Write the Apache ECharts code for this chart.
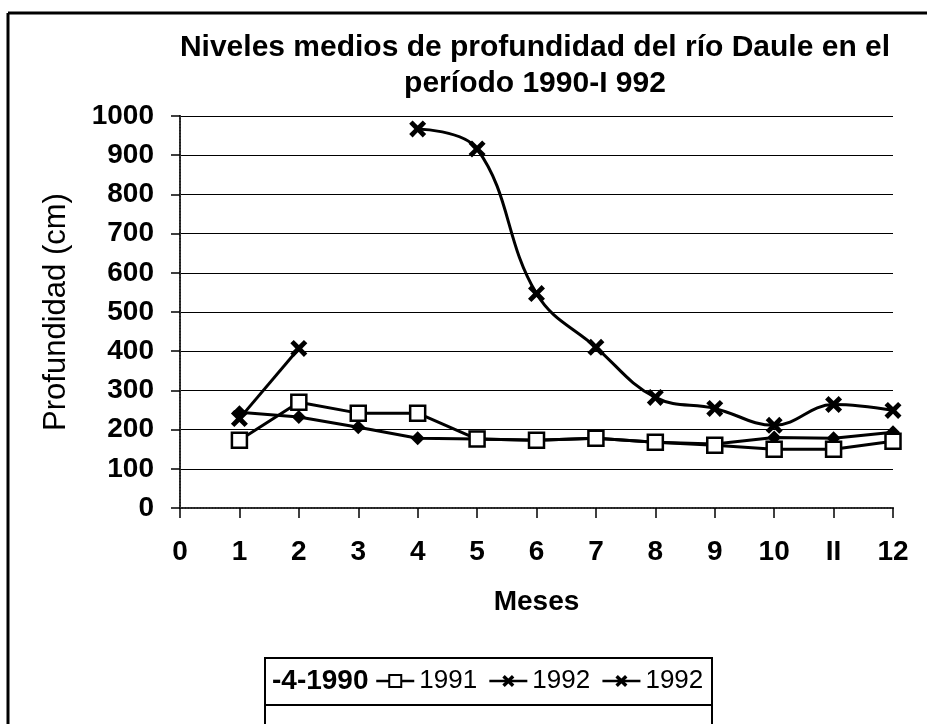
<!DOCTYPE html>
<html>
<head>
<meta charset="utf-8">
<script src="https://cdn.jsdelivr.net/npm/echarts@6/dist/echarts.min.js"></script>
<style>
html, body { margin: 0; padding: 0; background: #fff; }
#grafico { width: 927px; height: 724px; }
</style>
</head>
<body>
<div id="grafico"></div>
<script>
// datos
let meses = [1, 2, 3, 4, 5, 6, 7, 8, 9, 10, 11, 12];
let etiquetasX = ['0', '1', '2', '3', '4', '5', '6', '7', '8', '9', '10', 'II', '12'];
let nivel1990 = [244, 232, 206, 178, 176, 173, 178, 168, 163, 180, 178, 193];
let nivel1991 = [173, 270, 242, 242, 176, 173, 178, 168, 160, 150, 150, 170];
let meses1992a = [1, 2];
let nivel1992a = [228, 407];
let meses1992b = [4, 5, 6, 7, 8, 9, 10, 11, 12];
let nivel1992b = [967, 916, 547, 410, 282, 254, 211, 264, 249];

let fuente = "'Liberation Sans', Arial, sans-serif";
let simboloX = 'path://M2,0 L5,3 L8,0 L10,2 L7,5 L10,8 L8,10 L5,7 L2,10 L0,8 L3,5 L0,2 Z';

function pares(xs, ys) {
    return xs.map(function (x, i) { return [x, ys[i]]; });
}

let myChart = echarts.init(document.getElementById('grafico'));

let option = {
    backgroundColor: '#fff',
    animation: false,
    title: {
        text: 'Niveles medios de profundidad del río Daule en el\nperíodo 1990-I 992',
        left: 530,
        top: 25,
        textAlign: 'center',
        textStyle: {
            fontFamily: fuente,
            fontWeight: 'bold',
            fontSize: 30,
            lineHeight: 36,
            color: '#000'
        }
    },
    legend: [{
        // primera entrada sin icono
        left: 267,
        top: 667,
        padding: 0,
        itemWidth: 0,
        itemHeight: 14,
        textStyle: { fontFamily: fuente, fontSize: 28, fontWeight: 'bold', color: '#000', lineHeight: 28 },
        data: [{ name: '-4-1990', icon: 'none' }]
    }, {
        left: 375,
        top: 667,
        padding: 0,
        itemGap: 11,
        itemWidth: 38,
        itemHeight: 15,
        lineStyle: { width: 2.5, color: '#000' },
        formatter: function (name) { return name.trim(); },
        textStyle: { fontFamily: fuente, fontSize: 26, color: '#000', lineHeight: 28 },
        data: ['1991', '1992', '1992 ']
    }],
    graphic: [
        { type: 'line', shape: { x1: 8, y1: 13, x2: 927, y2: 13 }, style: { stroke: '#000', lineWidth: 3 } },
        { type: 'line', shape: { x1: 8, y1: 13, x2: 8, y2: 724 }, style: { stroke: '#000', lineWidth: 3 } },
        { type: 'rect', shape: { x: 265, y: 658, width: 447, height: 47 }, style: { stroke: '#000', fill: 'none', lineWidth: 2 } },
        { type: 'rect', shape: { x: 265, y: 705, width: 447, height: 30 }, style: { stroke: '#000', fill: 'none', lineWidth: 2 } }
    ],
    grid: {
        left: 180,
        right: 34,
        top: 116,
        bottom: 216
    },
    xAxis: [{
        type: 'value',
        min: 0,
        max: 12,
        interval: 1,
        name: 'Meses',
        nameLocation: 'middle',
        nameGap: 80,
        nameTextStyle: { fontFamily: fuente, fontWeight: 'bold', fontSize: 28, color: '#000' },
        axisLine: { lineStyle: { color: '#000', width: 2 } },
        axisTick: { show: true, length: 10, lineStyle: { color: '#000', width: 1.5 } },
        axisLabel: {
            margin: 30,
            fontFamily: fuente,
            fontWeight: 'bold',
            fontSize: 28,
            color: '#000',
            formatter: function (v) { return etiquetasX[v]; }
        },
        splitLine: { show: false }
    }, {
        type: 'value',
        position: 'top',
        min: 0,
        max: 12,
        interval: 1,
        axisLine: { show: true, lineStyle: { color: '#444', width: 1.5, type: 'dotted' } },
        axisTick: { show: false },
        axisLabel: { show: false },
        splitLine: { show: false }
    }],
    yAxis: [{
        type: 'value',
        min: 0,
        max: 1000,
        interval: 100,
        name: 'Profundidad (cm)',
        nameLocation: 'middle',
        nameGap: 108,
        nameTextStyle: { fontFamily: fuente, fontSize: 31, color: '#000' },
        axisLine: { show: true, lineStyle: { color: '#000', width: 2 } },
        axisTick: { show: true, length: 9, lineStyle: { color: '#000', width: 1.5 } },
        axisLabel: {
            margin: 26,
            fontFamily: fuente,
            fontWeight: 'bold',
            fontSize: 28,
            color: '#000',
            formatter: function (v) { return String(v); }
        },
        splitLine: { show: true, lineStyle: { color: '#000', width: 1.2 } }
    }, {
        type: 'value',
        position: 'right',
        min: 0,
        max: 1000,
        interval: 100,
        axisLine: { show: true, lineStyle: { color: '#444', width: 1.5, type: 'dotted' } },
        axisTick: { show: false },
        axisLabel: { show: false },
        splitLine: { show: false }
    }],
    series: [{
        name: '-4-1990',
        type: 'line',
        data: pares(meses, nivel1990),
        symbol: 'diamond',
        symbolSize: 14,
        lineStyle: { color: '#000', width: 3 },
        itemStyle: { color: '#000' }
    }, {
        name: '1991',
        type: 'line',
        data: pares(meses, nivel1991),
        symbol: 'rect',
        symbolSize: 15,
        lineStyle: { color: '#000', width: 3 },
        itemStyle: { color: '#fff', borderColor: '#000', borderWidth: 2.5 }
    }, {
        name: '1992',
        type: 'line',
        data: pares(meses1992a, nivel1992a),
        symbol: simboloX,
        symbolSize: 17,
        lineStyle: { color: '#000', width: 3 },
        itemStyle: { color: '#000' }
    }, {
        name: '1992 ',
        type: 'line',
        data: pares(meses1992b, nivel1992b),
        smooth: 0.4,
        symbol: simboloX,
        symbolSize: 17,
        lineStyle: { color: '#000', width: 3 },
        itemStyle: { color: '#000' }
    }]
};

myChart.setOption(option);
</script>
</body>
</html>
